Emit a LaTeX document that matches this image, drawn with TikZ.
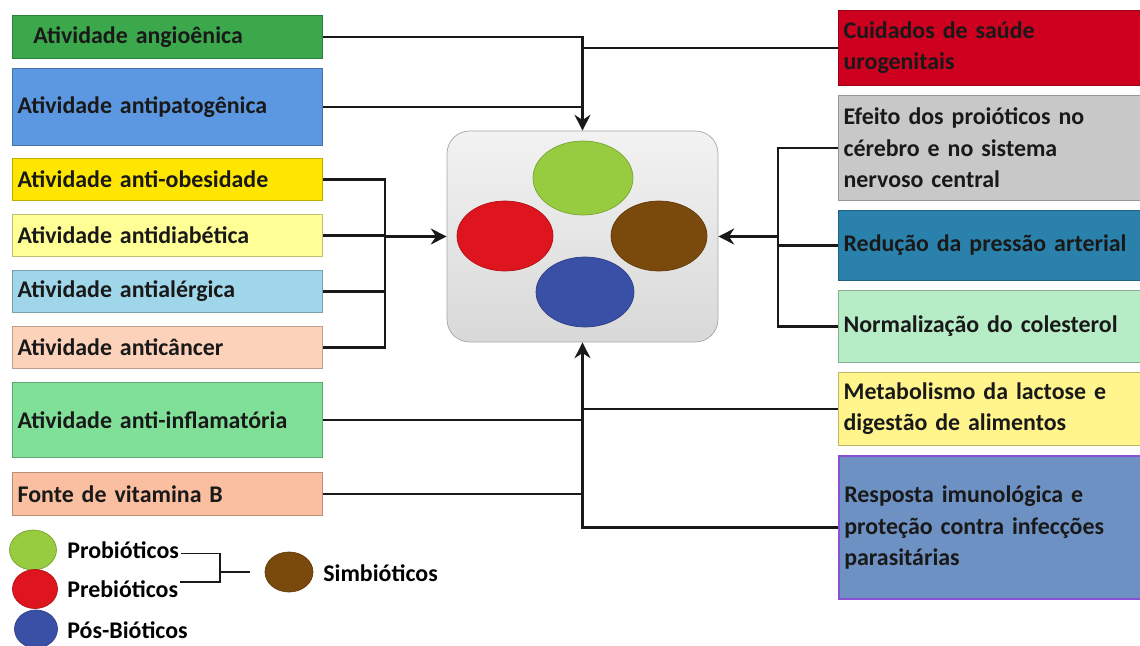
\documentclass[tikz,border=0pt]{standalone}
\usepackage{fontspec}
\setmainfont{Carlito}
\usetikzlibrary{arrows.meta,positioning,shapes.geometric}

\definecolor{angioC}{RGB}{60,168,76}
\definecolor{pathoC}{RGB}{92,152,226}
\definecolor{obesC}{RGB}{255,230,0}
\definecolor{diabC}{RGB}{255,255,150}
\definecolor{allerC}{RGB}{160,214,234}
\definecolor{cancC}{RGB}{252,210,186}
\definecolor{inflC}{RGB}{128,224,152}
\definecolor{vitbC}{RGB}{250,190,160}
\definecolor{cuidC}{RGB}{205,0,32}
\definecolor{effeC}{RGB}{200,200,200}
\definecolor{reduC}{RGB}{42,130,172}
\definecolor{normC}{RGB}{182,236,198}
\definecolor{metaC}{RGB}{255,245,140}
\definecolor{respC}{RGB}{110,145,196}
\definecolor{respB}{RGB}{140,80,210}
\definecolor{proC}{RGB}{152,204,64}
\definecolor{preC}{RGB}{222,20,30}
\definecolor{simC}{RGB}{122,74,12}
\definecolor{posC}{RGB}{58,80,166}

\begin{document}
\begin{tikzpicture}[
  x=0.02cm, y=-0.02cm,
  font=\bfseries\fontsize{13.6}{17.8}\selectfont,
  >={Stealth[length=9pt,width=9pt]},
  lbox/.style={draw=#1!75!black, fill=#1, anchor=north west, minimum width=6.2cm,
    text width=6.0cm, align=left, inner xsep=3pt, text=black!90},
  rbox/.style={draw=#1!75!black, fill=#1, anchor=north west, minimum width=6.04cm,
    text width=5.9cm, align=left, inner xsep=3pt, text=black!90},
  blob/.style={ellipse, draw=#1!80!black, fill=#1},
  wire/.style={line width=1.5pt, draw=black!90},
  brk/.style={line width=1pt, draw=black!90}
]

\useasboundingbox (0,0) rectangle (1140,646);

\node[draw=gray!70, rounded corners=0.45cm, top color=gray!10, bottom color=gray!30,
  minimum width=5.42cm, minimum height=4.22cm] (hub) at (582.5,236.5) {};
\node[blob=proC, minimum width=2cm, minimum height=1.48cm] (prob) at (583,178) {};
\node[blob=preC, minimum width=1.92cm, minimum height=1.4cm] (preb) at (505,236) {};
\node[blob=simC, minimum width=1.92cm, minimum height=1.4cm] (simb) at (659,236) {};
\node[blob=posC, minimum width=1.96cm, minimum height=1.4cm] (posb) at (585,292) {};

\node[lbox=angioC, minimum height=0.86cm] (angio) at (12,15) {\hspace{9pt}Atividade angioênica};
\node[lbox=pathoC, minimum height=1.54cm] (patho) at (12,68) {Atividade antipatogênica};
\node[lbox=obesC, minimum height=0.84cm] (obes) at (12,158) {Atividade anti-obesidade};
\node[lbox=diabC, minimum height=0.84cm] (diab) at (12,214) {Atividade antidiabética};
\node[lbox=allerC, minimum height=0.84cm] (aller) at (12,270) {Atividade antialérgica};
\node[lbox=cancC, minimum height=0.84cm] (canc) at (12,326) {Atividade anticâncer};
\node[lbox=inflC, minimum height=1.5cm] (infl) at (12,382) {Atividade anti-inflamatória};
\node[lbox=vitbC, minimum height=0.86cm] (vitb) at (12,472) {Fonte de vitamina B};

\node[rbox=cuidC, minimum height=1.5cm] (cuid) at (838,10) {Cuidados de saúde\\urogenitais};
\node[rbox=effeC, minimum height=2.1cm] (effe) at (838,95) {Efeito dos proióticos no\\cérebro e no sistema\\nervoso central};
\node[rbox=reduC, minimum height=1.4cm] (redu) at (838,210) {Redução da pressão arterial};
\node[rbox=normC, minimum height=1.44cm] (norm) at (838,290) {Normalização do colesterol};
\node[rbox=metaC, minimum height=1.46cm] (meta) at (838,372) {Metabolismo da lactose e\\digestão de alimentos};
\node[rbox=respC, draw=respB, line width=1.2pt, minimum height=2.86cm] (resp) at (838,455) {Resposta imunológica e\\proteção contra infecções\\parasitárias};

\coordinate (lbus) at (385,0);
\coordinate (rbus) at (778,0);

\draw[wire, ->] (angio.east) -| (hub.north);
\draw[wire] (patho.east) -- (patho.east -| hub.north);
\draw[wire] (cuid.west) -- (cuid.west -| hub.north);

\draw[wire] (obes.east) -| (canc.east -| lbus) -- (canc.east);
\draw[wire] (diab.east) -- (diab.east -| lbus);
\draw[wire] (aller.east) -- (aller.east -| lbus);
\draw[wire, ->] (hub.west -| lbus) -- (hub.west);

\draw[wire] (effe.west) -| (norm.west -| rbus) -- (norm.west);
\draw[wire] (redu.west) -- (redu.west -| rbus);
\draw[wire, ->] (hub.east -| rbus) -- (hub.east);

\draw[wire, ->] (resp.west) -| (hub.south);
\draw[wire] (meta.west) -- (meta.west -| hub.south);
\draw[wire] (infl.east) -- (infl.east -| hub.south);
\draw[wire] (vitb.east) -- (vitb.east -| hub.south);

\node[blob=proC, minimum width=0.94cm, minimum height=0.8cm] (lpro) at (33,550) {};
\node[blob=preC, minimum width=0.9cm, minimum height=0.78cm] (lpre) at (35,589) {};
\node[blob=posC, minimum width=0.86cm, minimum height=0.76cm] (lpos) at (36,629) {};
\node[blob=simC, minimum width=0.96cm, minimum height=0.8cm] (lsim) at (289,572) {};
\node[anchor=west, inner xsep=0pt] (tpro) at (67,550) {Probióticos};
\node[anchor=west, inner xsep=0pt] (tpre) at (67,589) {Prebióticos};
\node[anchor=west, inner xsep=0pt] (tpos) at (67,630) {Pós-Bióticos};
\node[anchor=west, inner xsep=0pt] (tsim) at (323,573) {Simbióticos};

\coordinate (bmid) at (220,572);
\draw[brk] ([xshift=1pt,yshift=-2pt]tpro.east) -| ([yshift=4pt]tpre.east -| bmid) -- ([xshift=1pt,yshift=4pt]tpre.east);
\draw[brk, shorten >=0.3cm] (bmid) -- (lsim.west);

\end{tikzpicture}
\end{document}
